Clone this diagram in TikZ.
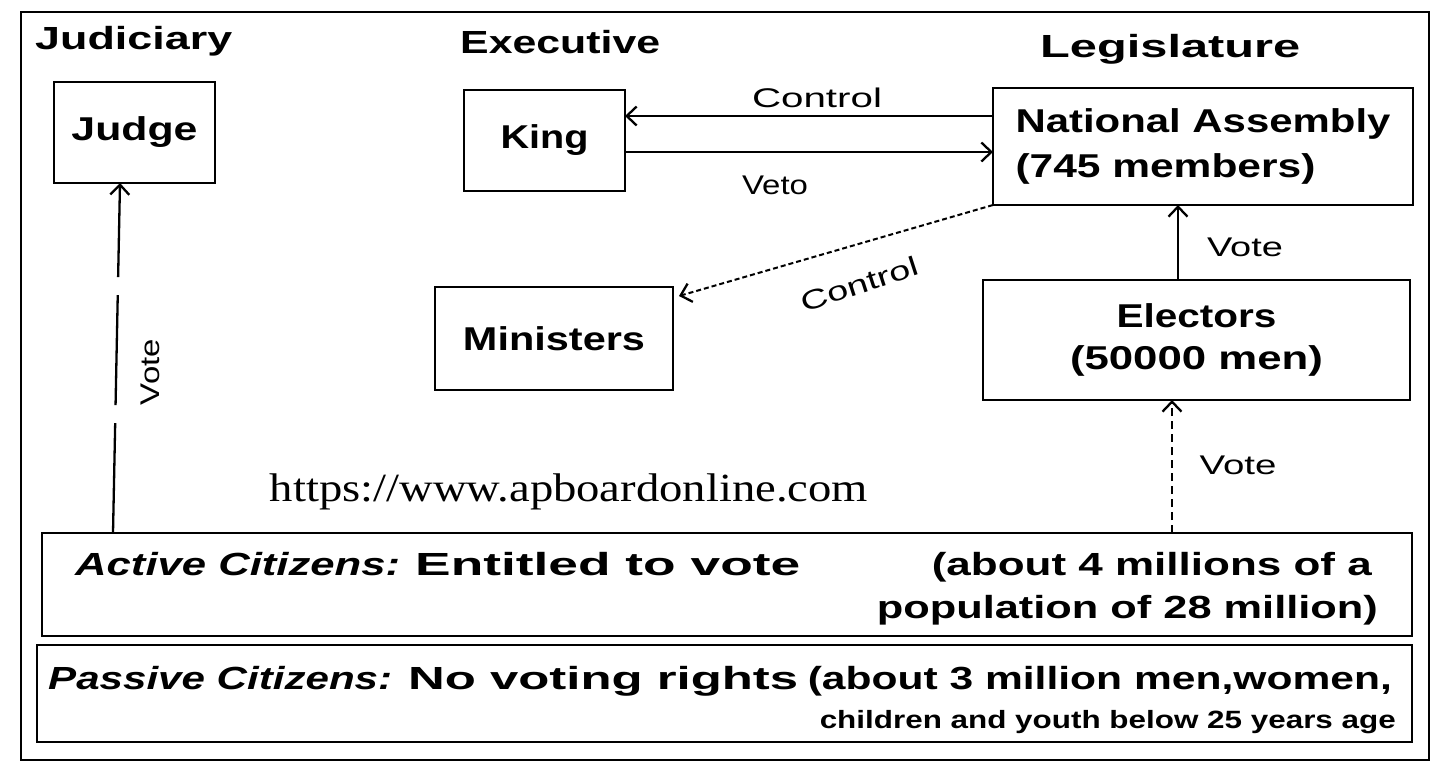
\documentclass[tikz,border=0pt]{standalone}
\usepackage{fontspec}
\setmainfont{Liberation Sans}
\newfontfamily\wmfont{Liberation Serif}
\usepackage{graphicx}
\usetikzlibrary{arrows.meta}
\newcommand\fitw[2]{\resizebox{#1}{\height}{#2}}
\begin{document}
\begin{tikzpicture}[x=1pt,y=-1pt,
  box/.style={draw, line width=2.4pt, inner sep=0pt, outer sep=0pt},
  btxt/.style={font=\fontsize{33}{42}\selectfont\bfseries, align=center},
  head/.style={font=\fontsize{32}{38}\selectfont\bfseries, inner sep=0pt, anchor=base west},
  body/.style={font=\fontsize{32}{38}\selectfont\bfseries, inner sep=0pt},
  lbl/.style={font=\fontsize{27}{32}\selectfont, inner sep=0pt},
  arr/.style={line width=2.3pt, -{Straight Barb[length=10pt,width=19pt,line width=2.3pt]}}]
\useasboundingbox (0,0) rectangle (1435,769);
\fill[white] (0,0) rectangle (1435,769);
% outer frame
\draw[line width=2pt] (21,12) rectangle (1429,760);
% headers
\node[head] (hj) at (35,49) {\fitw{197pt}{Judiciary}};
\node[head] (he) at (460,53) {\fitw{200pt}{Executive}};
\node[head] (hl) at (1040,57) {\fitw{260pt}{Legislature}};
% boxes
\node[box, btxt, minimum width=161pt, minimum height=101pt] (judge) at (134.5,132.5) {\fitw{126pt}{Judge}};
\node[box, btxt, minimum width=161pt, minimum height=101pt] (king) at (544.5,140.5) {\fitw{88pt}{King}};
\node[box, btxt, font=\fontsize{33}{45}\selectfont\bfseries, align=left, minimum width=420pt, minimum height=117pt] (na) at (1203,146.5) {\fitw{375pt}{National Assembly}\\\fitw{300pt}{(745 members)}};
\node[box, btxt, minimum width=238pt, minimum height=103pt] (min) at (554,338.5) {\fitw{182pt}{Ministers}};
\node[box, btxt, minimum width=427pt, minimum height=120pt] (el) at (1196.5,340) {\fitw{160pt}{Electors}\\\fitw{253pt}{(50000 men)}};
\node[box, minimum width=1370pt, minimum height=103pt] (act) at (727,584.5) {};
\node[box, minimum width=1375pt, minimum height=97pt] (pas) at (724.5,693.5) {};
% citizens texts
\node[body, anchor=base west] (a1) at (75,575) {\fitw{325pt}{\itshape Active Citizens:}};
\node[body, anchor=base west] (a2) at (415,575) {\fitw{385pt}{Entitled to vote}};
\node[body, anchor=base east] (a3) at (1372,575) {\fitw{440pt}{(about 4 millions of a}};
\node[body, anchor=base east] (a4) at (1378,618) {\fitw{501pt}{population of 28 million)}};
\node[body, anchor=base west] (p1) at (48,689) {\fitw{344pt}{\itshape Passive Citizens:}};
\node[body, anchor=base west] (p2) at (408,689) {\fitw{390pt}{No voting rights}};
\node[body, anchor=base east] (p3) at (1392,689) {\fitw{584pt}{(about 3 million men,women,}};
\node[body, font=\fontsize{25}{30}\selectfont\bfseries, anchor=base east] (p4) at (1396,728) {\fitw{576pt}{children and youth below 25 years age}};
% watermark
\node[font=\wmfont\fontsize{40}{48}\selectfont, inner sep=0pt] (wm) at (569,492) {\fitw{598pt}{https://www.apboardonline.com}};
% connectors
\draw[arr] ([yshift=30.5pt]na.west) -- ([yshift=24.5pt]king.east);
\draw[arr] ([yshift=-11.5pt]king.east) -- ([yshift=-5.5pt]na.west);
\draw[arr, line width=2pt, dash pattern=on 5pt off 3pt] (na.south west) -- ([xshift=6pt,yshift=-9pt]min.north east);
\draw[arr] ([xshift=-18.5pt]el.north) -- ([xshift=-25pt]na.south);
\draw[arr, dash pattern=on 8pt off 5pt] ([xshift=445pt]act.north) -- ([xshift=-24.5pt]el.south);
\draw[arr, dash pattern=on 110pt off 18pt] ([xshift=-614pt]act.north) -- ([xshift=-14.5pt]judge.south);
% labels
\node[lbl] (lc1) at (817,98) {\fitw{130pt}{Control}};
\node[lbl] (lv) at (775,185) {\fitw{66pt}{Veto}};
\node[lbl, rotate=18] (lc2) at (860,284) {\fitw{122pt}{Control}};
\node[lbl] (lv1) at (1245,247) {\fitw{76pt}{Vote}};
\node[lbl] (lv2) at (1238,465) {\fitw{77pt}{Vote}};
\node[lbl, rotate=90] (lv3) at (150,372) {\fitw{66pt}{Vote}};
\end{tikzpicture}
\end{document}
